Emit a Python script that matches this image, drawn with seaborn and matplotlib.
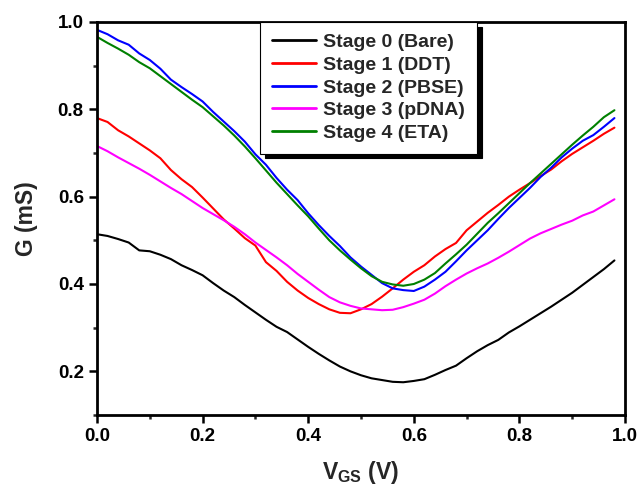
import numpy as np
import pandas as pd
import matplotlib
matplotlib.use("Agg")
import matplotlib.pyplot as plt
from matplotlib.ticker import MultipleLocator
import seaborn as sns

vgs = [round(0.02 * i, 2) for i in range(50)]

stage0 = [0.514, 0.510, 0.503, 0.495, 0.477, 0.475, 0.467, 0.457, 0.443, 0.432,
          0.420, 0.402, 0.385, 0.370, 0.352, 0.335, 0.318, 0.302, 0.290, 0.273,
          0.256, 0.240, 0.225, 0.211, 0.200, 0.191, 0.184, 0.180, 0.176, 0.175,
          0.178, 0.182, 0.192, 0.203, 0.213, 0.230, 0.246, 0.260, 0.272, 0.289,
          0.303, 0.318, 0.333, 0.348, 0.364, 0.380, 0.398, 0.416, 0.434, 0.454]
stage1 = [0.780, 0.771, 0.752, 0.738, 0.722, 0.706, 0.688, 0.661, 0.640, 0.622,
          0.598, 0.573, 0.548, 0.527, 0.505, 0.488, 0.450, 0.430, 0.405, 0.385,
          0.368, 0.354, 0.342, 0.334, 0.333, 0.342, 0.354, 0.371, 0.390, 0.410,
          0.428, 0.443, 0.463, 0.480, 0.494, 0.523, 0.543, 0.563, 0.581, 0.600,
          0.616, 0.631, 0.647, 0.662, 0.681, 0.698, 0.713, 0.728, 0.744, 0.758]
stage2 = [0.982, 0.972, 0.958, 0.948, 0.928, 0.913, 0.893, 0.868, 0.851, 0.835,
          0.818, 0.794, 0.772, 0.750, 0.726, 0.697, 0.673, 0.643, 0.616, 0.592,
          0.562, 0.535, 0.510, 0.487, 0.461, 0.440, 0.421, 0.402, 0.390, 0.386,
          0.384, 0.394, 0.410, 0.428, 0.452, 0.477, 0.500, 0.523, 0.549, 0.574,
          0.597, 0.620, 0.645, 0.666, 0.690, 0.710, 0.728, 0.741, 0.760, 0.780]
stage3 = [0.716, 0.704, 0.690, 0.677, 0.664, 0.650, 0.635, 0.620, 0.606, 0.590,
          0.574, 0.560, 0.546, 0.531, 0.514, 0.495, 0.478, 0.461, 0.443, 0.423,
          0.405, 0.387, 0.370, 0.358, 0.350, 0.344, 0.342, 0.340, 0.341, 0.347,
          0.355, 0.364, 0.378, 0.395, 0.410, 0.424, 0.436, 0.447, 0.460, 0.474,
          0.489, 0.504, 0.516, 0.526, 0.536, 0.545, 0.557, 0.566, 0.580, 0.594]
stage4 = [0.966, 0.952, 0.939, 0.925, 0.908, 0.894, 0.876, 0.858, 0.840, 0.822,
          0.805, 0.784, 0.763, 0.740, 0.715, 0.688, 0.660, 0.632, 0.606, 0.580,
          0.555, 0.527, 0.500, 0.477, 0.456, 0.436, 0.418, 0.405, 0.399, 0.396,
          0.400, 0.410, 0.425, 0.447, 0.468, 0.490, 0.515, 0.540, 0.562, 0.585,
          0.608, 0.631, 0.653, 0.675, 0.697, 0.719, 0.740, 0.760, 0.782, 0.798]

labels = ["Stage 0 (Bare)", "Stage 1 (DDT)", "Stage 2 (PBSE)", "Stage 3 (pDNA)", "Stage 4 (ETA)"]
colors = ["#000000", "#FF0000", "#0000FF", "#FF00FF", "#008000"]
series = [stage0, stage1, stage2, stage3, stage4]

df = pd.concat([pd.DataFrame({"V": vgs, "G": s, "Stage": lab}) for s, lab in zip(series, labels)],
               ignore_index=True)

sns.set_style("ticks")
plt.rcParams["font.family"] = ["Liberation Sans", "DejaVu Sans"]
plt.rcParams["font.weight"] = "bold"
plt.rcParams["mathtext.fontset"] = "custom"
plt.rcParams["mathtext.bf"] = "Liberation Sans:bold"
plt.rcParams["mathtext.rm"] = "Liberation Sans:bold"
plt.rcParams["mathtext.it"] = "Liberation Sans:bold"

fig = plt.figure(figsize=(6.41, 4.88), dpi=100)
ax = fig.add_axes([97 / 641, 1 - 415 / 488, (625 - 97) / 641, (415 - 22) / 488])

sns.lineplot(data=df, x="V", y="G", hue="Stage", hue_order=labels,
             palette=dict(zip(labels, colors)), linewidth=1.5, ax=ax, sort=False)

ax.set_xlim(0, 1.0)
ax.set_ylim(0.1, 1.0)
ax.xaxis.set_minor_locator(MultipleLocator(0.1))
ax.yaxis.set_minor_locator(MultipleLocator(0.1))
ax.set_xticks([0.0, 0.2, 0.4, 0.6, 0.8, 1.0])
ax.set_xticklabels(["0.0", "0.2", "0.4", "0.6", "0.8", "1.0"])
ax.set_yticks([0.2, 0.4, 0.6, 0.8, 1.0])
ax.set_yticklabels(["0.2", "0.4", "0.6", "0.8", "1.0"])

for sp in ax.spines.values():
    sp.set_linewidth(2.0)
    sp.set_color("black")
ax.tick_params(which="major", direction="out", length=6, width=1.8, labelsize=13.5, pad=3.5,
               top=False, right=False, colors="black")
ax.tick_params(which="minor", direction="out", length=3, width=1.8, top=False, right=False)
for t in ax.get_xticklabels() + ax.get_yticklabels():
    t.set_fontweight("bold")

ax.set_xlabel(r"$\mathbf{V_{GS}}$ (V)", fontsize=16.5, fontweight="bold", labelpad=10)
ax.set_ylabel("G (mS)", fontsize=16.5, fontweight="bold", labelpad=14)

leg = ax.legend(loc="upper left", bbox_to_anchor=((260 - 97) / 528, 1.0), frameon=True,
                fancybox=False, shadow={"ox": 3.5, "oy": -3.5, "color": "black", "alpha": 1.0},
                framealpha=1.0, edgecolor="black", fontsize=14, handlelength=2.3,
                borderpad=0.6, labelspacing=0.26, handletextpad=0.35, borderaxespad=0)
leg.get_frame().set_linewidth(0.8)
for t in leg.get_texts():
    t.set_fontweight("bold")
for l in leg.get_lines():
    l.set_linewidth(2.0)

fig.savefig("out.png", dpi=100)
